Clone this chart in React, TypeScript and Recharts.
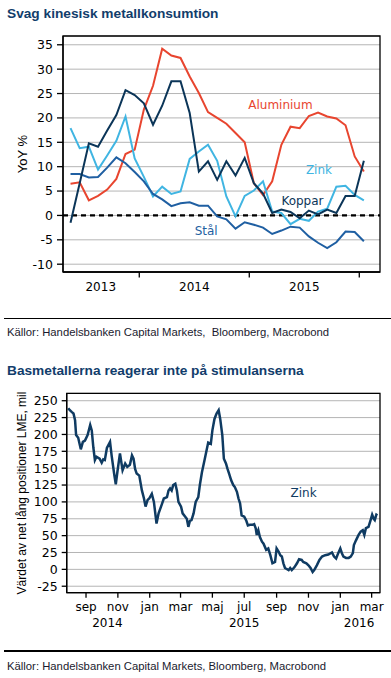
import React from "react";
import {
  LineChart,
  Line,
  XAxis,
  YAxis,
  CartesianGrid,
  ReferenceLine,
  ReferenceArea,
  ReferenceDot,
} from "recharts";

// ---------- Chart 1: Svag kinesisk metallkonsumtion (YoY %) ----------
const consumptionMonths = [
  "2013-05", "2013-06", "2013-07", "2013-08", "2013-09", "2013-10", "2013-11", "2013-12",
  "2014-01", "2014-02", "2014-03", "2014-04", "2014-05", "2014-06", "2014-07", "2014-08",
  "2014-09", "2014-10", "2014-11", "2014-12", "2015-01", "2015-02", "2015-03", "2015-04",
  "2015-05", "2015-06", "2015-07", "2015-08", "2015-09", "2015-10", "2015-11", "2015-12",
  "2016-01",
];
const aluminium = [
  6.5, 6.8, 3.1, 4.0, 5.3, 7.5, 12.6, 13.5, 21.7, 26.6, 34.2, 32.8, 32.3, 28.5, 25.1, 21.2,
  20.0, 18.8, 16.9, 15.0, 6.6, 4.2, 7.0, 14.5, 18.2, 17.9, 20.4, 21.1, 20.3, 19.9, 18.5, 12.1,
  9.0,
];
const zink = [
  17.9, 13.8, 14.1, 9.4, 12.3, 15.3, 20.3, 11.7, 7.9, 3.9, 5.9, 4.4, 4.9, 11.6, 13.1, 14.5,
  11.2, 3.9, -0.2, 4.0, 5.1, 7.0, 0.8, 0.5, -1.8, -0.7, -1.1, 0.8, 1.4, 5.9, 6.1, 4.2, 3.1,
];
const koppar = [
  -1.5, 6.6, 14.8, 14.1, 17.4, 20.6, 25.7, 24.7, 23.0, 18.6, 22.5, 27.5, 27.5, 21.0, 9.0, 11.1,
  7.3, 11.1, 8.2, 11.8, 6.6, 4.5, 0.5, 1.2, 0.7, -0.6, 1.0, 0.2, 1.2, 0.5, 4.0, 4.0, 11.2,
];
const stal = [
  8.5, 8.5, 7.8, 7.9, 9.8, 11.9, 10.7, 8.9, 7.0, 4.4, 3.3, 1.9, 2.5, 2.7, 2.0, 2.0, -0.2, -0.8,
  -2.7, -1.4, -1.9, -2.5, -3.8, -3.1, -2.3, -2.5, -4.3, -5.6, -6.7, -5.5, -3.3, -3.4, -5.3,
];
const yTicks1 = [-10, -5, 0, 5, 10, 15, 20, 25, 30, 35];
const yearBoundaries1 = [12, 24, 36]; // months since Jan 2013
const yearLabelPos1 = [7.8, 18, 30];
const yearLabels1 = ["2013", "2014", "2015"];

// ---------- Chart 2: Basmetallerna reagerar inte på stimulanserna ----------
// days since 2014-01-01
const zinkDays = [
  209, 212, 216, 219, 222, 224, 228, 233, 237, 241, 246, 251, 254, 257, 260, 263, 269, 273, 276, 279,
  283, 289, 292, 297, 300, 303, 308, 313, 318, 322, 327, 331, 334, 337, 340, 345, 350, 354, 357, 361,
  364, 369, 373, 378, 382, 388, 392, 398, 401, 404, 407, 410, 414, 417, 420, 425, 428, 433, 436, 439,
  442, 445, 449, 453, 458, 461, 465, 470, 474, 477, 482, 485, 489, 493, 497, 500, 504, 507, 511, 514,
  517, 521, 525, 528, 532, 535, 538, 541, 546, 550, 553, 557, 562, 565, 568, 570, 573, 576, 580, 583,
  588, 592, 596, 600, 605, 608, 612, 615, 618, 621, 624, 631, 634, 637, 642, 647, 651, 656, 659, 665,
  669, 673, 677, 680, 685, 690, 695, 701, 707, 714, 718, 722, 726, 730, 733, 736, 741, 746, 750, 754,
  756, 760, 765, 769, 773, 776, 779, 784, 788, 791, 794, 796, 799, 801,
];
const zinkNetLong = [
  239, 236, 233, 231, 221, 199, 195, 178, 189, 191, 199, 214, 206, 181, 162, 167, 164, 158, 163, 162,
  180, 189, 169, 141, 126, 144, 172, 147, 157, 152, 155, 169, 164, 149, 142, 139, 117, 105, 93, 103,
  105, 112, 100, 68, 83, 96, 105, 107, 117, 120, 117, 125, 127, 117, 100, 93, 83, 78, 75, 63,
  72, 73, 83, 100, 107, 125, 144, 162, 177, 188, 186, 206, 223, 231, 236, 223, 199, 164, 157, 149,
  142, 132, 125, 122, 115, 105, 98, 80, 78, 72, 65, 66, 66, 67, 61, 51, 58, 48, 41, 38,
  29, 31, 21, 9, 11, 31, 26, 21, 19, 9, 2, -1, 2, -1, 3, 9, 15, 14, 11, 9,
  6, 2, -4, -1, 6, 14, 19, 21, 22, 25, 19, 16, 24, 31, 24, 19, 17, 17, 19, 24,
  36, 43, 51, 56, 58, 51, 61, 63, 73, 81, 75, 73, 81, 80,
];
const yTicks2 = [-25, 0, 25, 50, 75, 100, 125, 150, 175, 200, 225, 250];
const monthTickDays = [243, 304, 365, 424, 485, 546, 608, 669, 730, 790];
const monthTickLabels = ["sep", "nov", "jan", "mar", "maj", "jul", "sep", "nov", "jan", "mar"];
const yearLabelDays = [284, 546, 766];
const yearLabels2 = ["2014", "2015", "2016"];

// ---------- styles ----------
const TITLE = "#123d6b";
const SRC = "#1a1a2e";
const GRID = "#b5b5b5";
const C_ALU = "#e8452f";
const C_ZINK = "#40b5e2";
const C_KOPP = "#0b3558";
const C_STAL = "#1f5fa2";
const C_Z2 = "#0f3b62";
const TICKFONT = "DejaVu Sans, Verdana, sans-serif";

const data1 = consumptionMonths.map((m, i) => {
  const [y, mo] = m.split("-").map(Number);
  return {
    x: (y - 2013) * 12 + (mo - 1) + 0.5,
    aluminium: aluminium[i],
    zink: zink[i],
    koppar: koppar[i],
    stal: stal[i],
  };
});
const data2 = zinkDays.map((d, i) => ({ x: d, v: zinkNetLong[i] }));

const xTicks1 = [...yearLabelPos1, ...yearBoundaries1].sort((a, b) => a - b);
const xTicks2 = Array.from(new Set([...monthTickDays, ...yearLabelDays])).sort((a, b) => a - b);

const X1Tick = (props: any) => {
  const { x, y, payload } = props;
  const v = payload.value;
  if (yearBoundaries1.includes(v)) {
    return <line x1={x} x2={x} y1={y} y2={y + 5.5} stroke="#000" strokeWidth={1.3} />;
  }
  const idx = yearLabelPos1.indexOf(v);
  return (
    <text x={x} y={y + 18.5} textAnchor="middle" fontSize={12} fontFamily={TICKFONT} fill="#000">
      {yearLabels1[idx]}
    </text>
  );
};

const X2Tick = (props: any) => {
  const { x, y, payload } = props;
  const v = payload.value;
  const mi = monthTickDays.indexOf(v);
  const yi = yearLabelDays.indexOf(v);
  return (
    <g>
      {mi >= 0 && <line x1={x} x2={x} y1={y} y2={y + 5} stroke="#000" strokeWidth={1.3} />}
      {mi >= 0 && (
        <text x={x} y={y + 18.3} textAnchor="middle" fontSize={12} fontFamily={TICKFONT} fill="#000">
          {monthTickLabels[mi]}
        </text>
      )}
      {yi >= 0 && (
        <text x={x} y={y + 34} textAnchor="middle" fontSize={12} fontFamily={TICKFONT} fill="#000">
          {yearLabels2[yi]}
        </text>
      )}
    </g>
  );
};

const X1_DOMAIN: [number, number] = [3.68, 38.26];
const Y1_DOMAIN: [number, number] = [-11.6, 36.8];
const X2_DOMAIN: [number, number] = [206, 806];
const Y2_DOMAIN: [number, number] = [-34.6, 261];

const labelStyle = (fill: string) => ({
  position: "center" as const,
  fill,
  fontSize: 12,
  fontFamily: TICKFONT,
});

export default function App() {
  return (
    <div
      style={{
        position: "absolute",
        left: 0,
        top: 0,
        width: 391,
        height: 678,
        background: "#fff",
        overflow: "hidden",
        fontFamily: "'Liberation Sans', Arial, sans-serif",
      }}
    >
      <div
        style={{
          position: "absolute",
          left: 7,
          top: 6,
          fontSize: 13.7,
          lineHeight: "16px",
          fontWeight: 700,
          color: TITLE,
          whiteSpace: "nowrap",
        }}
      >
        Svag kinesisk metallkonsumtion
      </div>

      <div style={{ position: "absolute", left: 0, top: 0 }}>
        <LineChart width={391} height={300} data={data1} margin={{ top: 36, right: 11, left: 0, bottom: 0 }}>
          <CartesianGrid horizontal vertical={false} stroke={GRID} strokeWidth={1} />
          <XAxis
            dataKey="x"
            type="number"
            domain={X1_DOMAIN}
            allowDataOverflow
            ticks={xTicks1}
            interval={0}
            tick={<X1Tick />}
            tickLine={false}
            tickSize={0}
            tickMargin={0}
            height={28}
            axisLine={{ stroke: "#000", strokeWidth: 1.3 }}
          />
          <YAxis
            type="number"
            domain={Y1_DOMAIN}
            allowDataOverflow
            ticks={yTicks1}
            interval={0}
            width={63}
            tickSize={6}
            tickMargin={4}
            tickLine={{ stroke: "#000", strokeWidth: 1.3 }}
            axisLine={{ stroke: "#000", strokeWidth: 1.3 }}
            tick={{ fill: "#000", fontSize: 12.5, fontFamily: TICKFONT }}
          />
          <ReferenceLine y={0} stroke="#000" strokeWidth={2.2} strokeDasharray="5 4" />
          <Line type="linear" dataKey="aluminium" stroke={C_ALU} strokeWidth={2} dot={false} isAnimationActive={false} />
          <Line type="linear" dataKey="zink" stroke={C_ZINK} strokeWidth={2} dot={false} isAnimationActive={false} />
          <Line type="linear" dataKey="stal" stroke={C_STAL} strokeWidth={2} dot={false} isAnimationActive={false} />
          <Line type="linear" dataKey="koppar" stroke={C_KOPP} strokeWidth={2} dot={false} isAnimationActive={false} />
          <ReferenceArea
            x1={X1_DOMAIN[0]}
            x2={X1_DOMAIN[1]}
            y1={Y1_DOMAIN[0]}
            y2={Y1_DOMAIN[1]}
            fill="none"
            fillOpacity={0}
            stroke="#000"
            strokeWidth={1.3}
            ifOverflow="visible"
          />
          <ReferenceDot x={27.4} y={22.7} r={0} fill="none" stroke="none" label={{ value: "Aluminium", ...labelStyle(C_ALU) }} />
          <ReferenceDot x={31.6} y={9.3} r={0} fill="none" stroke="none" label={{ value: "Zink", ...labelStyle(C_ZINK) }} />
          <ReferenceDot x={29.8} y={3.05} r={0} fill="none" stroke="none" label={{ value: "Koppar", ...labelStyle(C_KOPP) }} />
          <ReferenceDot x={19.3} y={-3.1} r={0} fill="none" stroke="none" label={{ value: "Stål", ...labelStyle(C_STAL) }} />
        </LineChart>
      </div>

      <div
        style={{
          position: "absolute",
          left: 22,
          top: 154,
          transform: "translate(-50%, -50%) rotate(-90deg)",
          fontSize: 13,
          whiteSpace: "nowrap",
          color: "#000",
        }}
      >
        YoY %
      </div>

      <div style={{ position: "absolute", left: 4, top: 317.6, width: 387, height: 1.4, background: "#000" }} />
      <div
        style={{
          position: "absolute",
          left: 7,
          top: 324.8,
          fontSize: 11.3,
          lineHeight: "14px",
          color: SRC,
          whiteSpace: "pre",
        }}
      >
        {"Källor: Handelsbanken Capital Markets,  Bloomberg, Macrobond"}
      </div>

      <div
        style={{
          position: "absolute",
          left: 7,
          top: 363,
          fontSize: 13.7,
          lineHeight: "16px",
          fontWeight: 700,
          color: TITLE,
          whiteSpace: "nowrap",
        }}
      >
        Basmetallerna reagerar inte på stimulanserna
      </div>

      <div style={{ position: "absolute", left: 0, top: 380 }}>
        <LineChart width={391} height={250} data={data2} margin={{ top: 13.3, right: 11, left: 0, bottom: 0 }}>
          <CartesianGrid horizontal vertical={false} stroke={GRID} strokeWidth={1} />
          <XAxis
            dataKey="x"
            type="number"
            domain={X2_DOMAIN}
            allowDataOverflow
            ticks={xTicks2}
            interval={0}
            tick={<X2Tick />}
            tickLine={false}
            tickSize={0}
            tickMargin={0}
            height={37.3}
            axisLine={{ stroke: "#000", strokeWidth: 1.3 }}
          />
          <YAxis
            type="number"
            domain={Y2_DOMAIN}
            allowDataOverflow
            ticks={yTicks2}
            interval={0}
            width={66.7}
            tickSize={5}
            tickMargin={4}
            tickLine={{ stroke: "#000", strokeWidth: 1.3 }}
            axisLine={{ stroke: "#000", strokeWidth: 1.3 }}
            tick={{ fill: "#000", fontSize: 12.5, fontFamily: TICKFONT }}
          />
          <Line type="linear" dataKey="v" stroke={C_Z2} strokeWidth={2.5} dot={false} isAnimationActive={false} />
          <ReferenceArea
            x1={X2_DOMAIN[0]}
            x2={X2_DOMAIN[1]}
            y1={Y2_DOMAIN[0]}
            y2={Y2_DOMAIN[1]}
            fill="none"
            fillOpacity={0}
            stroke="#000"
            strokeWidth={1.3}
            ifOverflow="visible"
          />
          <ReferenceDot x={659.6} y={113.6} r={0} fill="none" stroke="none" label={{ value: "Zink", ...labelStyle(C_Z2) }} />
        </LineChart>
      </div>

      <div
        style={{
          position: "absolute",
          left: 22,
          top: 493,
          transform: "translate(-50%, -50%) rotate(-90deg)",
          fontSize: 12,
          whiteSpace: "nowrap",
          color: "#000",
        }}
      >
        Värdet av net lång positioner LME, mil
      </div>

      <div style={{ position: "absolute", left: 4, top: 650.3, width: 387, height: 1.4, background: "#000" }} />
      <div
        style={{
          position: "absolute",
          left: 7,
          top: 659,
          fontSize: 11.3,
          lineHeight: "14px",
          color: SRC,
          whiteSpace: "pre",
        }}
      >
        {"Källor: Handelsbanken Capital Markets, Bloomberg, Macrobond"}
      </div>
    </div>
  );
}
